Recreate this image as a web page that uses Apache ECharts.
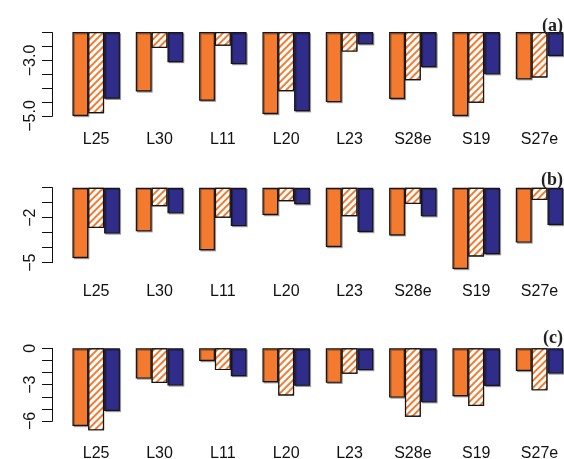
<html>

<head>
    <script src="https://cdn.jsdelivr.net/npm/echarts@6/dist/echarts.min.js"></script>

    <style>
        body {
            margin: 0
        }
        #chart {
            width: 564px;
            height: 459px;
        }
    </style>
</head>

<body>
    <div id="chart"></div>

    <script>
        const genes = ['L25', 'L30', 'L11', 'L20', 'L23', 'S28e', 'S19', 'S27e'];

        // panel (a)
        const aSolid = [-5.0, -4.12, -4.45, -4.93, -4.50, -4.39, -5.0, -3.68];
        const aHatch = [-4.90, -2.55, -2.47, -4.11, -2.68, -3.71, -4.52, -3.61];
        const aBlue = [-4.38, -3.06, -3.13, -4.83, -2.42, -3.24, -3.50, -2.84];

        // panel (b)
        const bSolid = [-4.69, -2.91, -4.17, -1.82, -3.95, -3.18, -5.42, -3.66];
        const bHatch = [-2.69, -1.24, -2.0, -0.9, -1.9, -1.09, -4.58, -0.82];
        const bBlue = [-3.06, -1.71, -2.56, -1.1, -2.95, -1.91, -4.44, -2.49];

        // panel (c)
        const cSolid = [-6.41, -2.5, -1.05, -2.8, -2.85, -4.07, -3.96, -1.87];
        const cHatch = [-6.77, -2.86, -1.8, -3.9, -2.1, -5.64, -4.76, -3.47];
        const cBlue = [-5.17, -3.08, -2.3, -3.1, -1.8, -4.46, -3.11, -2.09];

        const panelNames = ['(a)', '(b)', '(c)'];
        const yRanges = [[-5, -2, 0.5], [-5, 0, 1], [-6, 0, 1]];
        const yShown = [[-5, -3], [-5, -2], [-6, -3, 0]];

        const orange = '#F37A2E';
        const navy = '#302D8A';
        const minus = '\u2212';

        const tops = [32.7, 187.7, 348.3];
        const heights = [83.3, 75, 72.7];
        const labelMargins = [10, 15, 19];
        const titleTops = [12, 166, 324];

        const chartDom = document.getElementById('chart');
        const myChart = echarts.init(chartDom);

        const border = {
            borderColor: '#151515',
            borderWidth: 1.2
        };
        const shadow = {
            shadowColor: 'rgba(0,0,0,0.3)',
            shadowOffsetX: 1.2,
            shadowOffsetY: 1.2
        };

        const grid = [], xAxis = [], yAxis = [], series = [], title = [];
        const panels = [[aSolid, aHatch, aBlue], [bSolid, bHatch, bBlue], [cSolid, cHatch, cBlue]];

        panels.forEach((p, i) => {
            grid.push({
                left: 64.5, width: 506.7, top: tops[i], height: heights[i],
                outerBoundsMode: 'none', containLabel: false
            });
            xAxis.push({
                type: 'category',
                gridIndex: i,
                data: genes,
                axisLine: { show: false },
                axisTick: { show: false },
                axisLabel: {
                    margin: labelMargins[i],
                    fontSize: 16,
                    color: '#111',
                    fontFamily: 'Liberation Sans'
                }
            });
            yAxis.push({
                type: 'value',
                gridIndex: i,
                min: yRanges[i][0],
                max: yRanges[i][1],
                interval: yRanges[i][2],
                offset: 12,
                splitLine: { show: false },
                axisLine: { show: true, lineStyle: { color: '#111', width: 1 } },
                axisTick: { show: true, length: 10.5, lineStyle: { color: '#111' } },
                axisLabel: {
                    rotate: 90,
                    margin: 8,
                    fontSize: 16,
                    color: '#111',
                    fontFamily: 'Liberation Sans',
                    formatter: (v) => {
                        if (!yShown[i].some(s => Math.abs(s - v) < 1e-6)) return '';
                        const txt = i === 0 ? Math.abs(v).toFixed(1) : String(Math.abs(v));
                        return v < 0 ? minus + txt : txt;
                    }
                }
            });
            const clip = i === 0;
            series.push({
                type: 'bar', xAxisIndex: i, yAxisIndex: i, data: p[0],
                barWidth: 15.83, barGap: '0%', clip: clip,
                itemStyle: Object.assign({ color: orange }, border, shadow)
            });
            series.push({
                type: 'bar', xAxisIndex: i, yAxisIndex: i, data: p[1],
                barWidth: 15.83, barGap: '0%', clip: clip,
                itemStyle: Object.assign({
                    color: '#fff',
                    decal: {
                        color: orange,
                        backgroundColor: '#fff',
                        symbol: 'rect',
                        symbolSize: 1,
                        dashArrayX: [1, 0],
                        dashArrayY: [1.2, 2.4],
                        rotation: -Math.PI / 4
                    }
                }, border)
            });
            series.push({
                type: 'bar', xAxisIndex: i, yAxisIndex: i, data: p[2],
                barWidth: 15.83, barGap: '0%', clip: clip,
                itemStyle: Object.assign({ color: navy }, border, shadow)
            });
            title.push({
                text: panelNames[i],
                right: 1,
                top: titleTops[i],
                padding: 0,
                textStyle: {
                    fontFamily: 'Liberation Serif',
                    fontWeight: 'bold',
                    fontSize: 18,
                    color: '#222'
                }
            });
        });

        const option = {
            animation: false,
            title: title,
            grid: grid,
            xAxis: xAxis,
            yAxis: yAxis,
            series: series
        };

        myChart.setOption(option);
    </script>
</body>

</html>
